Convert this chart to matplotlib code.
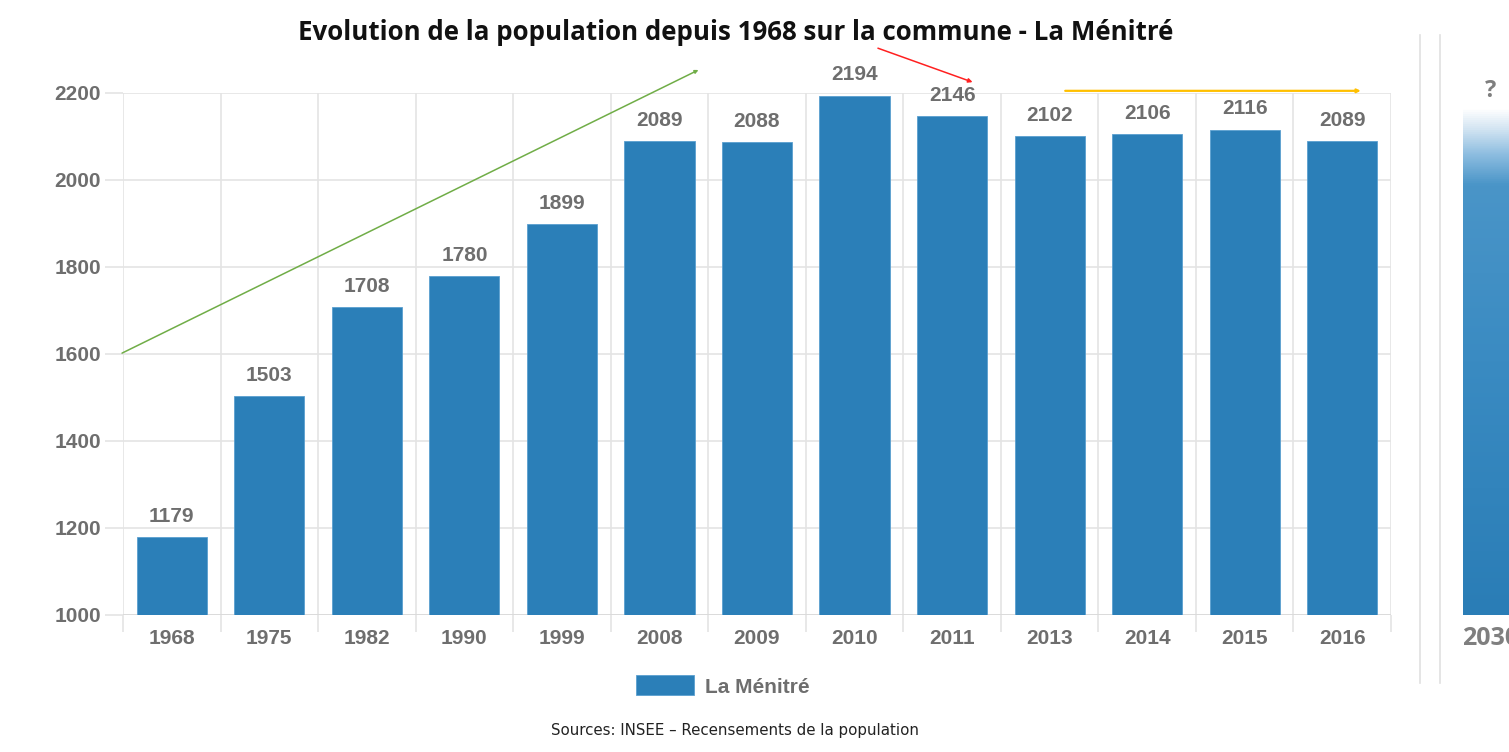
import numpy as np
import matplotlib
matplotlib.use('Agg')
import matplotlib.pyplot as plt
from matplotlib.colors import LinearSegmentedColormap

years = ['1968', '1975', '1982', '1990', '1999', '2008', '2009', '2010',
         '2011', '2013', '2014', '2015', '2016']
population = [1179, 1503, 1708, 1780, 1899, 2089, 2088, 2194,
              2146, 2102, 2106, 2116, 2089]
future_year = ['2030']
future_value = [2165]   # bar with "?" label, height
y_ticks = [1000, 1200, 1400, 1600, 1800, 2000, 2200]

BAR = '#2b7fb8'
GRID = '#e4e4e4'
TXT = '#6e6e6e'
W, H = 1509, 752

fig = plt.figure(figsize=(W / 100, H / 100), dpi=100)
fig.patch.set_facecolor('white')

def px_axes(x0, x1, y0, y1):
    return fig.add_axes([x0 / W, 1 - y1 / H, (x1 - x0) / W, (y1 - y0) / H])

ax = px_axes(123, 1391, 93, 615)
x = np.arange(len(years))
bars = ax.bar(x, population, width=0.72, color=BAR, edgecolor='#5a9fd0',
              linewidth=0.6, zorder=3, label='La Ménitré')
ax.set_xlim(-0.5, len(years) - 0.5)
ax.set_ylim(1000, 2200)
ax.set_yticks(y_ticks)
ax.set_yticklabels([str(v) for v in y_ticks])
ax.set_xticks(x)
ax.set_xticklabels(years)

# vertical lines between categories, horizontal grid on y ticks
ax.set_xticks(np.arange(-0.5, len(years)), minor=True)
ax.grid(True, which='minor', axis='x', color=GRID, lw=1.2, zorder=0)
ax.grid(True, which='major', axis='y', color=GRID, lw=1.2, zorder=0)
ax.tick_params(axis='x', which='major', length=0, pad=10)
ax.tick_params(axis='x', which='minor', length=12, color=GRID, width=1.2)
ax.tick_params(axis='y', length=13, color=GRID, width=1.2, pad=3)
for s in ax.spines.values():
    s.set_visible(False)
ax.axhline(1000, color='#d9d9d9', lw=1.2, zorder=2)

for lab in ax.get_xticklabels() + ax.get_yticklabels():
    lab.set_fontfamily('Liberation Sans')
    lab.set_fontweight('bold')
    lab.set_fontsize(15)
    lab.set_color(TXT)

for xi, v in zip(x, population):
    ax.annotate(str(v), (xi, v), xytext=(0, 8), textcoords='offset points',
                ha='center', va='bottom', fontsize=15, fontweight='bold',
                family='Liberation Sans', color=TXT, clip_on=False)

# trend arrows
ax.annotate('', xy=(5.4, 2253), xytext=(-0.51, 1602), annotation_clip=False,
            arrowprops=dict(arrowstyle='-|>', color='#70ad47', lw=1.1,
                            mutation_scale=5, shrinkA=0, shrinkB=0))
ax.annotate('', xy=(8.21, 2225), xytext=(7.24, 2303), annotation_clip=False,
            arrowprops=dict(arrowstyle='-|>', color='#ff2020', lw=1.1,
                            mutation_scale=6, shrinkA=0, shrinkB=0))
ax.annotate('', xy=(12.19, 2205), xytext=(9.16, 2205), annotation_clip=False,
            arrowprops=dict(arrowstyle='-|>', color='#ffc000', lw=1.6,
                            mutation_scale=5, shrinkA=0, shrinkB=0))

# legend
leg = ax.legend(handles=[bars], loc='center', bbox_to_anchor=(0.473, -0.136),
                frameon=False, handlelength=2.8, handleheight=1.1, handletextpad=0.5,
                prop={'family': 'Liberation Sans', 'weight': 'bold', 'size': 15})
for t in leg.get_texts():
    t.set_color(TXT)

fig.text(736 / W, 1 - 32 / H,
         'Evolution de la population depuis 1968 sur la commune - La Ménitré',
         ha='center', va='center', fontsize=18.6, fontweight='bold',
         family='Open Sans', color='#111111')
fig.text(735 / W, 1 - 731 / H, 'Sources: INSEE – Recensements de la population',
         ha='center', va='center', fontsize=10.8, family='DejaVu Sans', color='#222222')

# separator lines on the right
for xl in (1420, 1440):
    fig.add_artist(plt.Line2D([xl / W, xl / W], [1 - 683 / H, 1 - 35 / H],
                              color='#e0e0e0', lw=1.2))

# future bar (cut by the figure edge)
ax2 = px_axes(1442, 1540, 93, 615)
ax2.set_xlim(-0.5, 0.5)
ax2.set_ylim(1000, 2200)
fbars = ax2.bar([0], future_value, width=0.58, color='none', linewidth=0)
patch = fbars[0]
cmap = LinearSegmentedColormap.from_list(
    'fade', [(0.0, '#ffffff'), (0.04, '#d2e4f2'), (0.09, '#8dbde0'),
             (0.15, '#4a95c8'), (0.5, '#3a8bc2'), (1.0, '#2a7db6')])
grad = np.linspace(0, 1, 512).reshape(-1, 1)
im = ax2.imshow(grad, cmap=cmap, aspect='auto',
                extent=(-0.29, 0.29, 1000, future_value[0]), zorder=3)
im.set_clip_path(patch)
ax2.set_xticks([0])
ax2.set_xticklabels(future_year)
ax2.tick_params(axis='x', length=0, pad=8)
ax2.set_yticks([])
for lab in ax2.get_xticklabels():
    lab.set_fontfamily('Open Sans')
    lab.set_fontweight('bold')
    lab.set_fontsize(18)
    lab.set_color('#7f7f7f')
ax2.annotate('?', (0, future_value[0]), xytext=(0, 4), textcoords='offset points',
             ha='center', va='bottom', fontsize=17, fontweight='bold',
             family='Open Sans', color='#7f7f7f', annotation_clip=False)
for s in ax2.spines.values():
    s.set_visible(False)
ax2.patch.set_alpha(0)

fig.savefig('out.png', dpi=100)
